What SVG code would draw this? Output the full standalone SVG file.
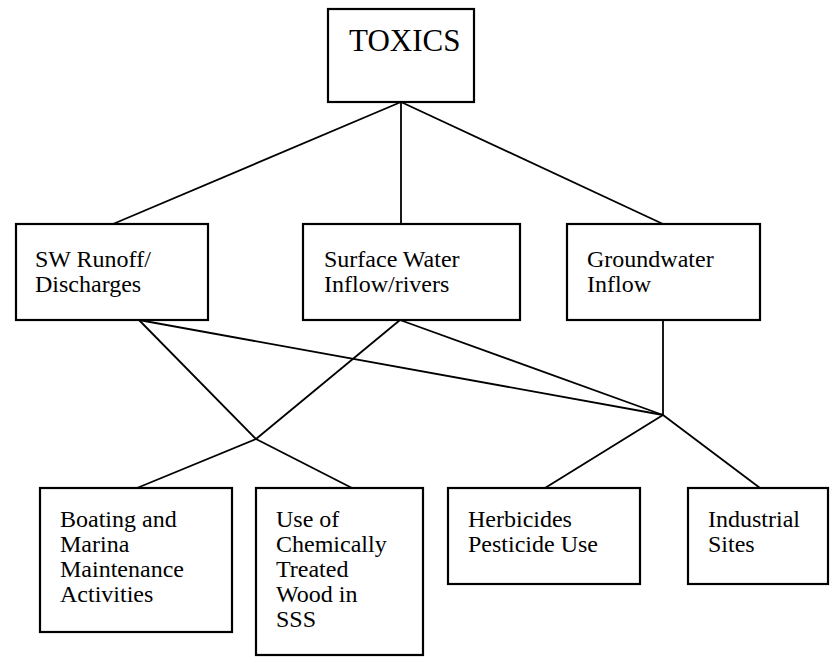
<svg xmlns="http://www.w3.org/2000/svg" width="830" height="658" viewBox="0 0 830 658">
  <style>
    .box { fill: #ffffff; stroke: #000000; stroke-width: 2.2; }
    .lbl { font-family: 'Liberation Serif', 'DejaVu Serif Condensed', 'DejaVu Serif', serif; font-stretch: condensed; font-size: 24px; fill: #000000; }
    .title { font-family: 'Liberation Serif', 'DejaVu Serif Condensed', 'DejaVu Serif', serif; font-stretch: condensed; font-size: 31px; fill: #000000; }
    .links line { stroke: #000000; stroke-width: 1.8; }
  </style>
  <rect width="830" height="658" fill="#ffffff"/>

  <!-- connectors -->
  <g id="connectors" class="links">
    <line x1="401" y1="102" x2="113" y2="224"/>
    <line x1="401" y1="102" x2="401" y2="224"/>
    <line x1="401" y1="102" x2="663" y2="224"/>
    <line x1="139" y1="320" x2="256" y2="439"/>
    <line x1="139" y1="320" x2="663" y2="415"/>
    <line x1="400" y1="320" x2="256" y2="439"/>
    <line x1="400" y1="320" x2="663" y2="415"/>
    <line x1="663" y1="320" x2="663" y2="415"/>
    <line x1="256" y1="439" x2="137" y2="488"/>
    <line x1="256" y1="439" x2="352" y2="488"/>
    <line x1="663" y1="415" x2="545" y2="488"/>
    <line x1="663" y1="415" x2="760" y2="488"/>
  </g>

  <g id="toxics">
    <rect class="box" x="328" y="9" width="146" height="93"/>
    <text class="title" x="349" y="51">TOXICS</text>
  </g>

  <g id="sw-runoff">
    <rect class="box" x="16" y="224" width="192" height="96"/>
    <text class="lbl" x="35" y="267">SW Runoff/</text>
    <text class="lbl" x="35" y="292">Discharges</text>
  </g>

  <g id="surface-water">
    <rect class="box" x="303" y="224" width="217" height="96"/>
    <text class="lbl" x="324" y="267">Surface Water</text>
    <text class="lbl" x="324" y="292">Inflow/rivers</text>
  </g>

  <g id="groundwater">
    <rect class="box" x="567" y="224" width="193" height="96"/>
    <text class="lbl" x="587" y="267">Groundwater</text>
    <text class="lbl" x="587" y="292">Inflow</text>
  </g>

  <g id="boating">
    <rect class="box" x="40" y="488" width="192" height="144"/>
    <text class="lbl" x="60" y="527">Boating and</text>
    <text class="lbl" x="60" y="552">Marina</text>
    <text class="lbl" x="60" y="577">Maintenance</text>
    <text class="lbl" x="60" y="602">Activities</text>
  </g>

  <g id="treated-wood">
    <rect class="box" x="256" y="488" width="167" height="167"/>
    <text class="lbl" x="276" y="527">Use of</text>
    <text class="lbl" x="276" y="552">Chemically</text>
    <text class="lbl" x="276" y="577">Treated</text>
    <text class="lbl" x="276" y="602">Wood in</text>
    <text class="lbl" x="276" y="627">SSS</text>
  </g>

  <g id="herbicides">
    <rect class="box" x="448" y="488" width="192" height="96"/>
    <text class="lbl" x="468" y="527">Herbicides</text>
    <text class="lbl" x="468" y="552">Pesticide Use</text>
  </g>

  <g id="industrial">
    <rect class="box" x="688" y="488" width="140" height="96"/>
    <text class="lbl" x="708" y="527">Industrial</text>
    <text class="lbl" x="708" y="552">Sites</text>
  </g>
</svg>
